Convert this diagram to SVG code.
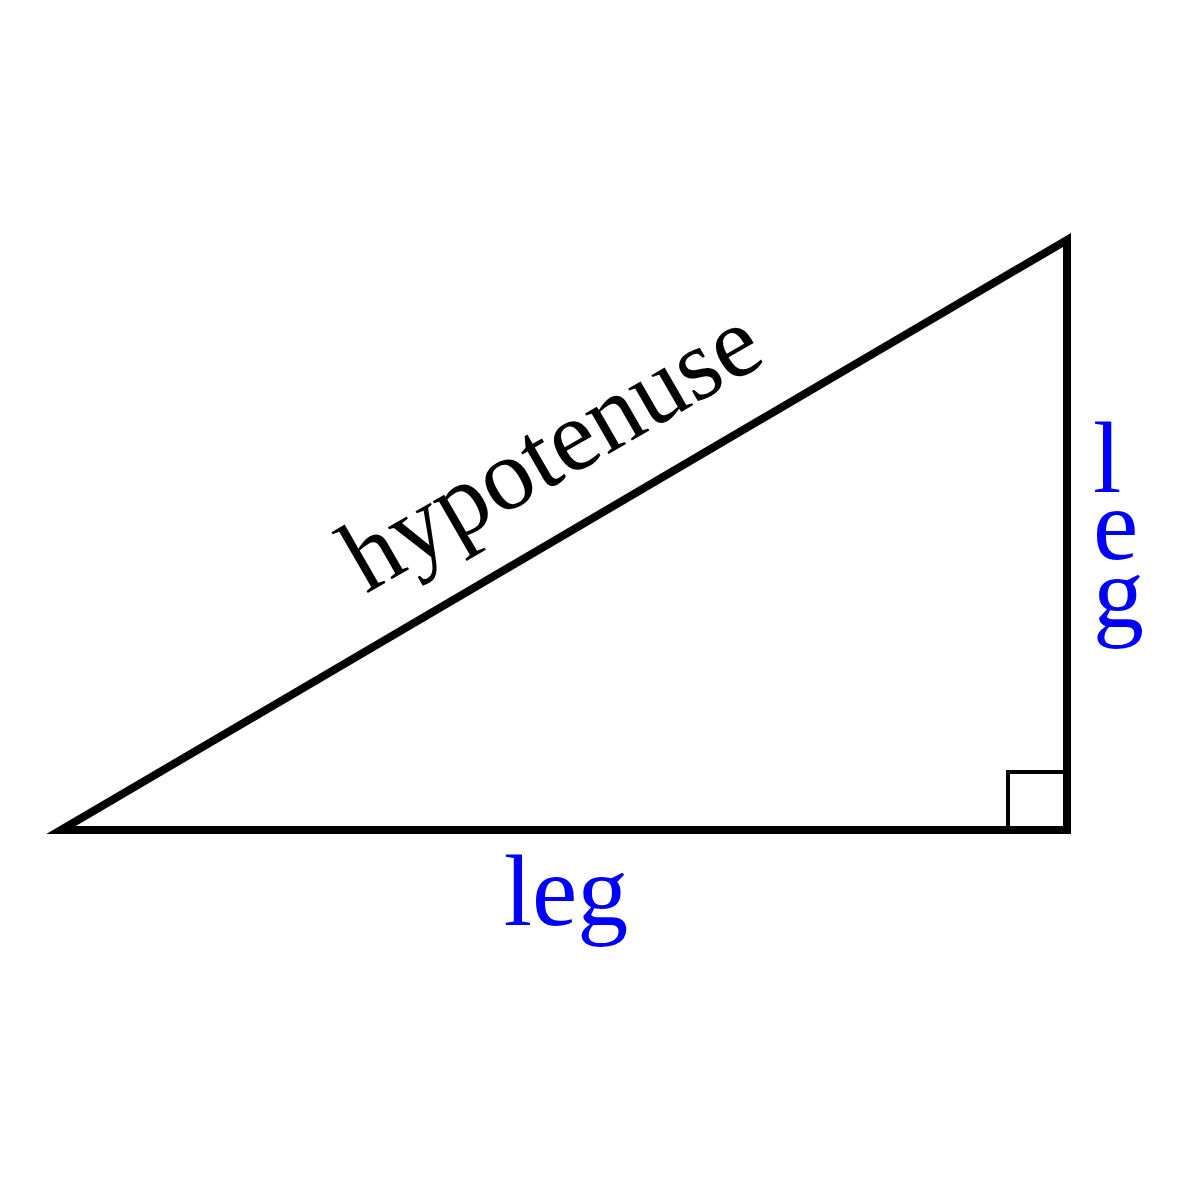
<svg xmlns="http://www.w3.org/2000/svg" width="1190" height="1190" viewBox="0 0 1190 1190">
<style>
.edge{fill:none;stroke:#000;stroke-width:8;stroke-linejoin:miter;stroke-miterlimit:10}
.mark{fill:none;stroke:#000;stroke-width:4}
.lbl{font-family:"Liberation Serif","Times New Roman",serif;font-size:102px}
.blue{fill:#0000ff}
</style>
<rect width="1190" height="1190" fill="#fff"/>
<g id="connectors">
<polygon id="triangle" class="edge" points="61,830 1067,240 1067,830"/>
<rect id="right-angle" class="mark" x="1008" y="772" width="59" height="58"/>
</g>
<g id="hypotenuse-label">
<text class="lbl" x="366" y="594" transform="rotate(-30 366 594)" fill="#000" font-size="110">hypotenuse</text>
</g>
<g id="bottom-leg-label">
<text class="lbl blue" x="566" y="925" text-anchor="middle" font-size="104">leg</text>
</g>
<g id="right-leg-label">
<text class="lbl blue"><tspan x="1093" y="492">l</tspan><tspan x="1093" y="559">e</tspan><tspan x="1093" y="627">g</tspan></text>
</g>
</svg>
